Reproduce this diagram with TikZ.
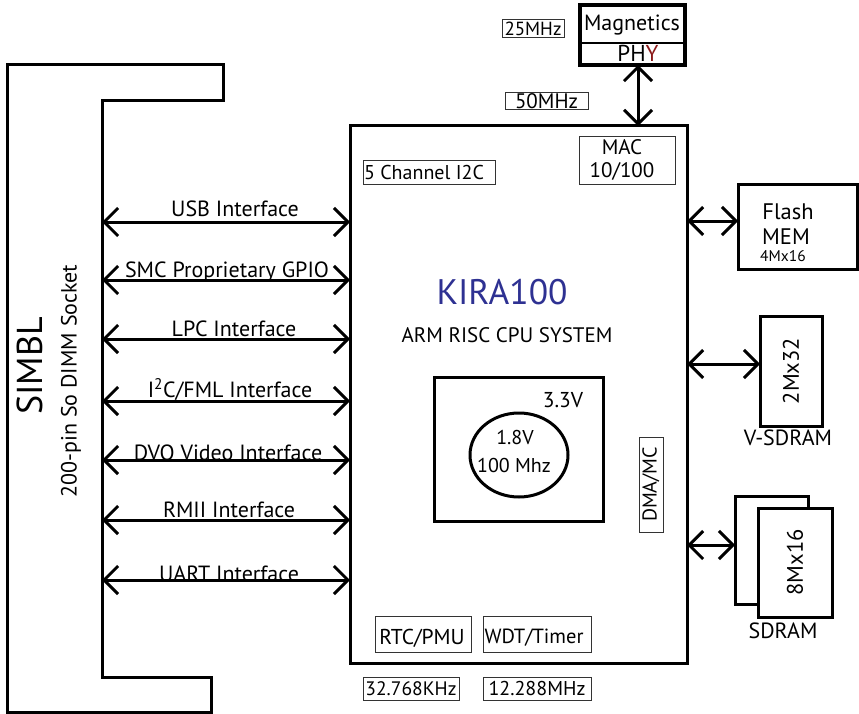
\documentclass[tikz,border=0pt]{standalone}
\usepackage{fontspec}
\setmainfont{PT Sans}
\usetikzlibrary{arrows.meta,shapes.geometric}
\definecolor{kiblue}{HTML}{2E3192}
\definecolor{phyred}{HTML}{8B1A1A}
\newcommand{\fs}[1]{\fontsize{#1}{#1}\selectfont}
\begin{document}
\begin{tikzpicture}[x=1pt,y=-1pt,
  thickbox/.style={draw, line width=3pt, inner sep=0pt, outer sep=0pt},
  thinbox/.style={draw=black!80, line width=1pt, inner sep=0pt, outer sep=0pt},
  link/.style={line width=3pt, {Straight Barb[length=14pt,width=28pt]}-{Straight Barb[length=14pt,width=28pt]}},
  lbl/.style={font=\fs{22}, anchor=base, inner sep=0pt},
  txt/.style={inner sep=0pt},
]
\useasboundingbox (0,0) rectangle (859,714);

% socket
\draw[line width=3pt, line join=miter] (7,65) -- (223,65) -- (223,101) -- (102,101) -- (102,677) -- (211,677) -- (211,712) -- (7,712) -- cycle;
\node[rotate=90, txt, font=\fs{36}] (simbl) at (30,366) {SIMBL};
\node[rotate=90, txt, font=\fs{22}] (sock) at (71,381) {200-pin So DIMM Socket};

% main block
\node[thickbox, minimum width=337pt, minimum height=537pt] (main) at (518.5,394.5) {};

% left links
\coordinate (s1) at (102,222);
\coordinate (s2) at (102,280);
\coordinate (s3) at (102,339);
\coordinate (s4) at (102,401);
\coordinate (s5) at (102,460);
\coordinate (s6) at (102,520);
\coordinate (s7) at (102,580);
\foreach \i in {1,...,7} {\draw[link] (s\i) -- (s\i -| main.west);}
\node[lbl] (l1) at (235,217) {USB Interface};
\node[lbl] (l2) at (227,277) {SMC Proprietary GPIO};
\node[lbl] (l3) at (234,336) {LPC Interface};
\node[lbl] (l4) at (230,397) {I\textsuperscript{2}C/FML Interface};
\node[lbl] (l5) at (228,460) {DVO Video Interface};
\node[lbl] (l6) at (229,517) {RMII Interface};
\node[lbl] (l7) at (229,581) {UART Interface};

% top: PHY
\node[draw, line width=3.5pt, inner sep=0pt, outer sep=0pt, minimum width=105pt, minimum height=60pt] (mag) at (632.5,35) {};
\coordinate (mdl) at (580,43);
\coordinate (mdr) at (685,43);
\draw[line width=1.2pt] (mdl) -- (mdr);
\node[txt, font=\fs{22}] (magt) at (632,25) {Magnetics};
\node[txt, font=\fs{23}] (phy) at (638,53) {PH\textcolor{phyred}{Y}};
\draw[link] ([xshift=5.5pt]mag.south) -- ([xshift=5.5pt]mag.south |- main.north);
\node[thinbox, font=\fs{19}, minimum width=62pt, minimum height=18pt] (c25) at (533,29) {25MHz};
\node[thinbox, font=\fs{21}, minimum width=83pt, minimum height=17pt] (c50) at (546.5,101.5) {50MHz};

% inside main
\node[thinbox, minimum width=132pt, minimum height=24pt] (i2c) at (429,173) {};
\node[txt, font=\fs{20}] (i2ct) at (424,173) {5 Channel I2C};
\node[thinbox, minimum width=96pt, minimum height=48pt] (mac) at (627,161) {};
\node[txt, font=\fs{21}] (mact) at (622,147.5) {MAC};
\node[txt, font=\fs{21}] (mact2) at (622,171) {10/100};
\node[txt, text=kiblue, font=\fs{35.5}] (kira) at (502,292) {KIRA100};
\node[txt, font=\fs{21}] (arm) at (507,335) {ARM RISC CPU SYSTEM};
\node[thickbox, minimum width=169pt, minimum height=144pt] (core) at (518.5,449) {};
\node[txt, font=\fs{21.5}] (v33) at (563,400) {3.3V};
\node[draw, ellipse, line width=3pt, minimum width=98pt, minimum height=84pt, inner sep=0pt] (cpu) at (519,455) {};
\node[txt, font=\fs{20}] (v18) at (515,437) {1.8V};
\node[txt, font=\fs{20}] (mhz) at (514,465) {100 Mhz};
\node[thinbox, minimum width=24pt, minimum height=95pt] (dma) at (651,484.5) {};
\node[txt, rotate=90, font=\fs{20}] (dmat) at (651,484.5) {DMA/MC};
\node[thinbox, minimum width=96pt, minimum height=36pt] (rtc) at (423,634) {};
\node[txt, font=\fs{21.5}] (rtct) at (422,638) {RTC/PMU};
\node[thinbox, minimum width=108pt, minimum height=36pt] (wdt) at (537,634) {};
\node[txt, font=\fs{20.5}] (wdtt) at (534,638) {WDT/Timer};
\node[thinbox, font=\fs{19.5}, minimum width=96pt, minimum height=23pt] (c32) at (411,688.5) {32.768KHz};
\node[thinbox, font=\fs{20}, minimum width=108pt, minimum height=23pt] (c12) at (537,688.5) {12.288MHz};

% right side memories
\node[thickbox, minimum width=119pt, minimum height=84pt] (flash) at (797.5,227) {};
\node[txt, font=\fs{22.5}] (fl1) at (788,212) {Flash};
\node[txt, font=\fs{22.5}] (fl2) at (786,237) {MEM};
\node[txt, font=\fs{15.5}] (fl3) at (783,256) {4Mx16};
\draw[link] ([yshift=6pt]flash.west) -- ([yshift=6pt]flash.west -| main.east);

\node[thickbox, minimum width=62pt, minimum height=110pt] (vs) at (791,371) {};
\node[txt, rotate=90, font=\fs{22.5}] (vst) at (791,371) {2Mx32};
\node[txt, font=\fs{22}] (vsl) at (788,438) {V-SDRAM};
\draw[link] ([yshift=7pt]vs.west) -- ([yshift=7pt]vs.west -| main.east);

\node[thickbox, minimum width=73pt, minimum height=108pt] (sdb) at (771.5,550) {};
\node[thickbox, fill=white, minimum width=74pt, minimum height=109pt] (sdf) at (795,562.5) {};
\node[txt, rotate=90, font=\fs{22.5}] (sdt) at (795,562.5) {8Mx16};
\node[txt, font=\fs{22}] (sdl) at (783,631) {SDRAM};
\draw[link] ([yshift=5pt]sdb.west) -- ([yshift=5pt]sdb.west -| main.east);
\end{tikzpicture}
\end{document}
